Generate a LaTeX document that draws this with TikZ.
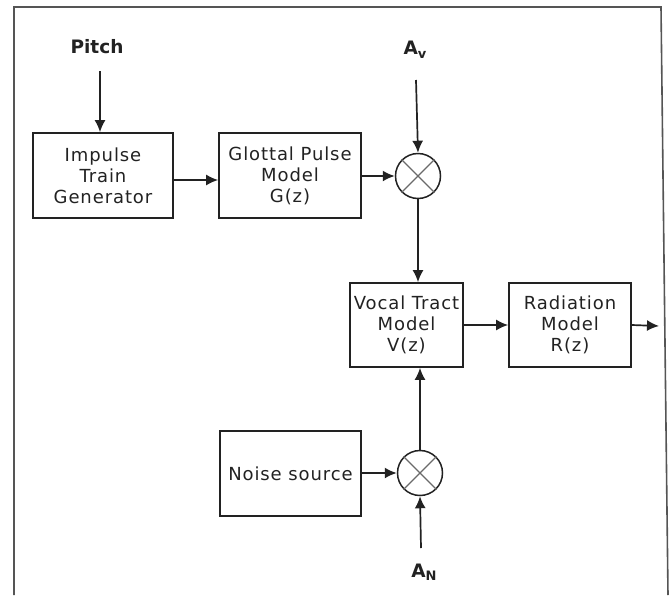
\documentclass[tikz,border=0pt]{standalone}
\usepackage{fontspec}
\setmainfont{DejaVu Sans}
\newfontfamily\vfont[LetterSpace=5]{DejaVu Sans}
\usetikzlibrary{arrows.meta}
\definecolor{ln}{HTML}{222222}
\definecolor{fr}{HTML}{555555}
\definecolor{cr}{HTML}{6A6A6A}
\begin{document}
\begin{tikzpicture}[x=1pt,y=-1pt,
  font=\vfont\fontsize{18}{21}\selectfont,
  blk/.style={draw=ln,line width=1.7pt,text=ln,align=center,inner sep=0pt,minimum width=#1,minimum height=85pt},
  mul/.style={draw=ln,line width=1.5pt,circle,minimum size=45pt,inner sep=0pt},
  lab/.style={font=\fontsize{18.5}{21}\selectfont\bfseries,text=ln,inner sep=0pt},
  arr/.style={draw=ln,line width=1.7pt,-{Latex[length=12pt,width=11pt]}}]
\useasboundingbox (0,0) rectangle (670,595);
\draw[fr,line width=1.6pt] (14,595) -- (14,7) -- (661,7) -- (668,595);
% blocks
\node[blk=140pt] (impulse) at (103,175.5) {Impulse\\Train\\Generator};
\node[blk=142pt] (glottal) at (290,175.5) {Glottal Pulse\\Model\\G(z)};
\node[mul] (m1) at (418,176) {};
\node[blk=113pt,minimum height=84pt] (vocal) at (406.5,325) {Vocal Tract\\Model\\V(z)};
\node[blk=122pt,minimum height=84pt] (rad) at (570,325) {Radiation\\Model\\R(z)};
\node[blk=141pt] (noise) at (290.5,473.5) {Noise source};
\node[mul] (m2) at (420,473) {};
\draw[cr,line width=1.1pt] (m1.45) -- (m1.225) (m1.135) -- (m1.315);
\draw[cr,line width=1.1pt] (m2.45) -- (m2.225) (m2.135) -- (m2.315);
% labels
\node[lab] (pitch) at (97,47) {Pitch};
\node[lab] (av) at (415,50) {A\raisebox{-3.5pt}{\fontsize{13}{13}\selectfont v}};
\node[lab] (an) at (424,572) {A\raisebox{-3.5pt}{\fontsize{13}{13}\selectfont N}};
\coordinate (pin) at (100,71);
\coordinate (avin) at (416,80);
\coordinate (anin) at (421,548);
\coordinate (out) at (659,326);
% connectors
\draw[arr] (pin) -- (pin |- impulse.north);
\draw[arr] ([yshift=-4.5pt]impulse.east) -- ([yshift=-4.5pt]glottal.west);
\draw[arr] (glottal.east |- m1.west) -- (m1.west);
\draw[arr] (avin) -- (m1.north);
\draw[arr] (m1.south) -- (m1.south |- vocal.north);
\draw[arr] (vocal.east) -- (rad.west);
\draw[arr] (rad.east) -- (out);
\draw[arr] (noise.east |- m2.west) -- (m2.west);
\draw[arr] (anin) -- (m2.south);
\draw[arr] (m2.north) -- (m2.north |- vocal.south);
\end{tikzpicture}
\end{document}
